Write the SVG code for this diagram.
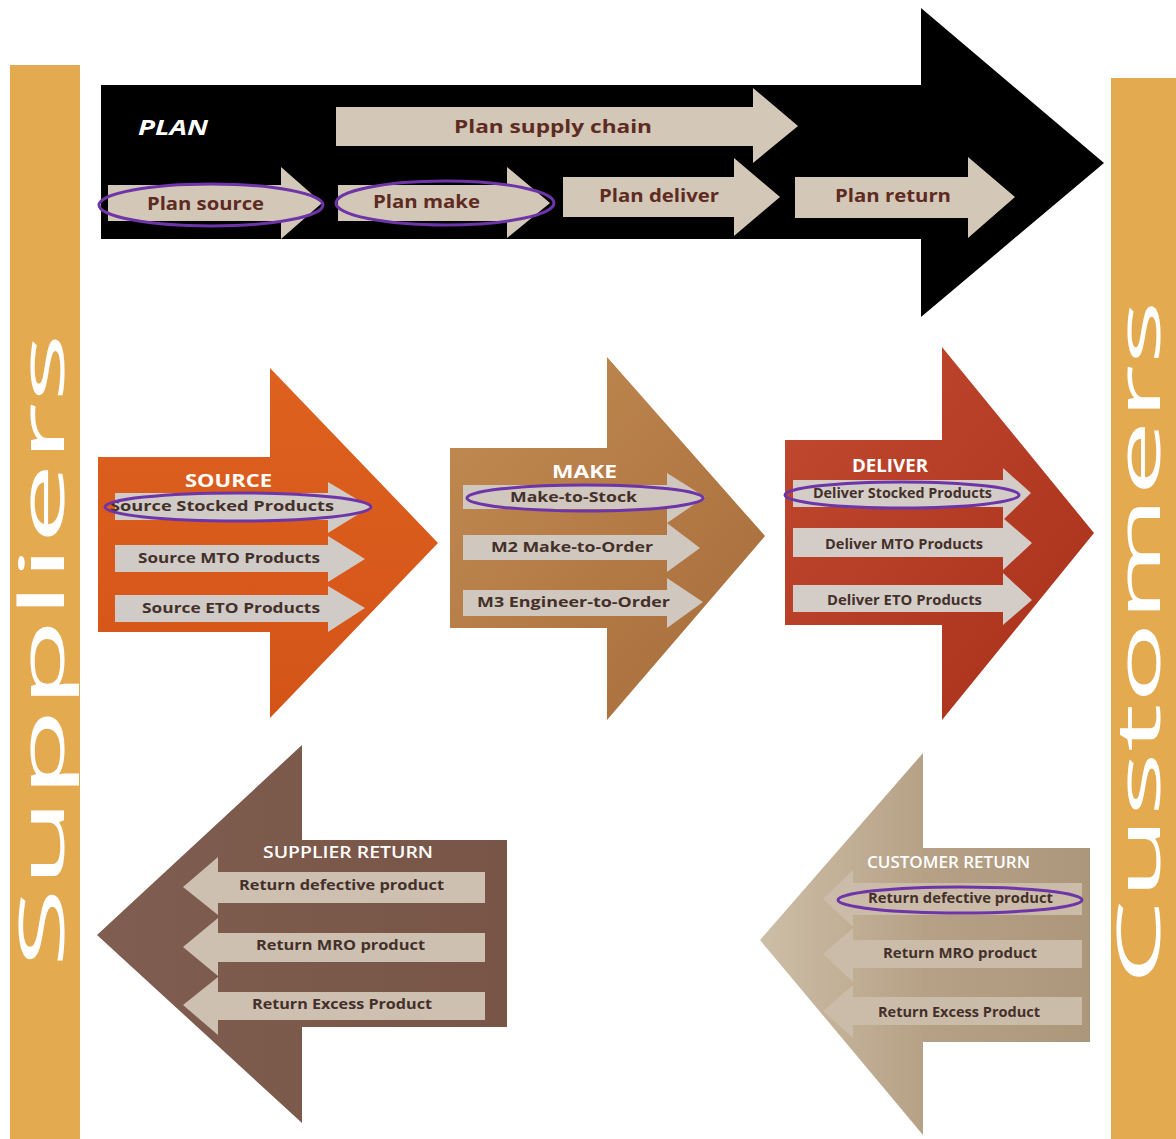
<svg xmlns="http://www.w3.org/2000/svg" width="1176" height="1139" viewBox="0 0 1176 1139">
  <defs>
    <linearGradient id="gSource" x1="0" y1="0" x2="0" y2="1">
      <stop offset="0" stop-color="#DE611F"/>
      <stop offset="1" stop-color="#D45418"/>
    </linearGradient>
    <linearGradient id="gMake" x1="0" y1="0" x2="1" y2="1">
      <stop offset="0" stop-color="#C38B53"/>
      <stop offset="1" stop-color="#A56B3A"/>
    </linearGradient>
    <linearGradient id="gDeliver" x1="0" y1="0" x2="1" y2="1">
      <stop offset="0" stop-color="#C24A30"/>
      <stop offset="1" stop-color="#A8301A"/>
    </linearGradient>
    <linearGradient id="gSupRet" x1="0" y1="0" x2="1" y2="0">
      <stop offset="0" stop-color="#7F5D50"/>
      <stop offset="1" stop-color="#785546"/>
    </linearGradient>
    <linearGradient id="gCusRet" x1="0" y1="0" x2="1" y2="0">
      <stop offset="0" stop-color="#CDBEA7"/>
      <stop offset="0.5" stop-color="#B6A186"/>
      <stop offset="1" stop-color="#AD977B"/>
    </linearGradient>
  </defs>
  <style>
    .bar { fill: #E4AA50; }
    .side { font-family: "Open Sans", "DejaVu Sans", sans-serif; fill: #FFFFFF; }
    .lbl { font-family: "Open Sans", "DejaVu Sans", sans-serif; font-weight: 700; }
    .plan-sub { fill: #D3C7B8; }
    .plan-txt { fill: #5E2B22; font-size: 18px; }
    .title { font-family: "Open Sans", "DejaVu Sans", sans-serif; font-weight: 700; fill: #FFFFFF; font-size: 17px; }
    .title-reg { font-family: "Open Sans", "DejaVu Sans", sans-serif; font-weight: 600; fill: #FFFFFF; font-size: 16px; }
    .sub-src { fill: #D0CBC6; }
    .sub-mk { fill: #D0C7BE; }
    .sub-dl { fill: #D4CDC7; }
    .sub-sr { fill: #CEC0B1; }
    .sub-cr { fill: #CBBCA9; }
    .row-txt { font-size: 14px; fill: #44302A; }
    .ring { fill: none; stroke: #6E35A8; stroke-width: 3; }
  </style>

  <!-- side bars -->
  <g id="suppliers">
    <rect class="bar" x="10" y="65" width="70" height="1074"/>
    <text class="side" font-size="62" transform="translate(64,968) rotate(-90)" textLength="635" lengthAdjust="spacingAndGlyphs">Suppliers</text>
  </g>
  <g id="customers">
    <rect class="bar" x="1111" y="78" width="65" height="1061"/>
    <text class="side" font-size="60" transform="translate(1160,985) rotate(-90)" textLength="685" lengthAdjust="spacingAndGlyphs">Customers</text>
  </g>

  <!-- PLAN -->
  <g id="plan">
    <polygon fill="#000000" points="101,85 921,85 921,8 1104,163 921,317 921,239 101,239"/>
    <text class="lbl" x="138" y="135" fill="#FFFFFF" font-size="21" font-style="italic" textLength="70" lengthAdjust="spacingAndGlyphs">PLAN</text>
    <g id="plan-supply-chain">
      <polygon class="plan-sub" points="336,107 753,107 753,88 798,126 753,163 753,146 336,146"/>
      <text class="lbl plan-txt" x="454" y="133" font-size="20" textLength="198" lengthAdjust="spacingAndGlyphs">Plan supply chain</text>
    </g>
    <g id="plan-source">
      <polygon class="plan-sub" points="108,185 281,185 281,167 322,203 281,239 281,221 108,221"/>
      <text class="lbl plan-txt" x="147" y="210" textLength="117" lengthAdjust="spacingAndGlyphs">Plan source</text>
      <ellipse class="ring" cx="211" cy="205" rx="112" ry="21"/>
    </g>
    <g id="plan-make">
      <polygon class="plan-sub" points="338,185 507,185 507,167 550,203 507,238 507,221 338,221"/>
      <text class="lbl plan-txt" x="373" y="208" textLength="107" lengthAdjust="spacingAndGlyphs">Plan make</text>
      <ellipse class="ring" cx="445" cy="203" rx="109" ry="22"/>
    </g>
    <g id="plan-deliver">
      <polygon class="plan-sub" points="563,177 734,177 734,158 780,197 734,236 734,217 563,217"/>
      <text class="lbl plan-txt" x="599" y="202" textLength="120" lengthAdjust="spacingAndGlyphs">Plan deliver</text>
    </g>
    <g id="plan-return">
      <polygon class="plan-sub" points="795,177 968,177 968,157 1015,197 968,238 968,218 795,218"/>
      <text class="lbl plan-txt" x="835" y="202" textLength="116" lengthAdjust="spacingAndGlyphs">Plan return</text>
    </g>
  </g>

  <!-- SOURCE -->
  <g id="source">
    <polygon fill="url(#gSource)" points="98,457 270,457 270,368 438,543 270,718 270,632 98,632"/>
    <text class="title" x="185" y="487" textLength="87" lengthAdjust="spacingAndGlyphs">SOURCE</text>
    <polygon class="sub-src" points="115,493 328,493 328,482 370,507 328,533 328,520 115,520"/>
    <polygon class="sub-src" points="115,545 328,545 328,536 365,559 328,582 328,572 115,572"/>
    <polygon class="sub-src" points="115,595 328,595 328,586 365,608 328,632 328,622 115,622"/>
    <text class="lbl row-txt" x="110" y="511" textLength="224" lengthAdjust="spacingAndGlyphs">Source Stocked Products</text>
    <text class="lbl row-txt" x="138" y="563" textLength="182" lengthAdjust="spacingAndGlyphs">Source MTO Products</text>
    <text class="lbl row-txt" x="142" y="613" textLength="178" lengthAdjust="spacingAndGlyphs">Source ETO Products</text>
    <ellipse class="ring" cx="238" cy="507" rx="133" ry="14"/>
  </g>

  <!-- MAKE -->
  <g id="make">
    <polygon fill="url(#gMake)" points="450,448 607,448 607,357 765,536 607,720 607,628 450,628"/>
    <text class="title" x="552" y="478" textLength="65" lengthAdjust="spacingAndGlyphs">MAKE</text>
    <polygon class="sub-mk" points="463,485 667,485 667,473 705,497 667,523 667,509 463,509"/>
    <polygon class="sub-mk" points="463,535 667,535 667,523 700,548 667,572 667,560 463,560"/>
    <polygon class="sub-mk" points="463,590 667,590 667,578 703,602 667,628 667,616 463,616"/>
    <text class="lbl row-txt" x="510" y="502" textLength="127" lengthAdjust="spacingAndGlyphs">Make-to-Stock</text>
    <text class="lbl row-txt" x="491" y="552" textLength="162" lengthAdjust="spacingAndGlyphs">M2 Make-to-Order</text>
    <text class="lbl row-txt" x="477" y="607" textLength="193" lengthAdjust="spacingAndGlyphs">M3 Engineer-to-Order</text>
    <ellipse class="ring" cx="585" cy="498" rx="118" ry="13"/>
  </g>

  <!-- DELIVER -->
  <g id="deliver">
    <polygon fill="url(#gDeliver)" points="785,440 942,440 942,347 1094,533 942,720 942,625 785,625"/>
    <text class="title" x="852" y="472" textLength="76" lengthAdjust="spacingAndGlyphs">DELIVER</text>
    <polygon class="sub-dl" points="793,480 1003,480 1003,468 1031,493 1003,520 1003,507 793,507"/>
    <polygon class="sub-dl" points="793,528 1003,528 1003,518 1032,543 1003,570 1003,557 793,557"/>
    <polygon class="sub-dl" points="793,585 1003,585 1003,573 1032,600 1003,625 1003,612 793,612"/>
    <text class="lbl row-txt" x="813" y="498" textLength="179" lengthAdjust="spacingAndGlyphs">Deliver Stocked Products</text>
    <text class="lbl row-txt" x="825" y="549" textLength="158" lengthAdjust="spacingAndGlyphs">Deliver MTO Products</text>
    <text class="lbl row-txt" x="827" y="605" textLength="155" lengthAdjust="spacingAndGlyphs">Deliver ETO Products</text>
    <ellipse class="ring" cx="902" cy="495" rx="117" ry="13"/>
  </g>

  <!-- SUPPLIER RETURN -->
  <g id="supplier-return">
    <polygon fill="url(#gSupRet)" points="507,840 302,840 302,745 97,935 302,1123 302,1027 507,1027"/>
    <text class="title-reg" x="263" y="858" textLength="170" lengthAdjust="spacingAndGlyphs">SUPPLIER RETURN</text>
    <polygon class="sub-sr" points="485,872 218,872 218,857 183,887 218,915 218,903 485,903"/>
    <polygon class="sub-sr" points="485,933 218,933 218,918 183,947 218,976 218,962 485,962"/>
    <polygon class="sub-sr" points="485,992 218,992 218,977 183,1005 218,1035 218,1020 485,1020"/>
    <text class="lbl row-txt" x="239" y="890" textLength="205" lengthAdjust="spacingAndGlyphs">Return defective product</text>
    <text class="lbl row-txt" x="256" y="950" textLength="169" lengthAdjust="spacingAndGlyphs">Return MRO product</text>
    <text class="lbl row-txt" x="252" y="1009" textLength="180" lengthAdjust="spacingAndGlyphs">Return Excess Product</text>
  </g>

  <!-- CUSTOMER RETURN -->
  <g id="customer-return">
    <polygon fill="url(#gCusRet)" points="1090,848 923,848 923,753 760,940 923,1135 923,1042 1090,1042"/>
    <text class="title-reg" x="867" y="868" textLength="163" lengthAdjust="spacingAndGlyphs" font-weight="400">CUSTOMER RETURN</text>
    <polygon class="sub-cr" points="1082,883 853,883 853,870 823,899 853,927 853,915 1082,915"/>
    <polygon class="sub-cr" points="1082,940 853,940 853,928 823,954 853,982 853,968 1082,968"/>
    <polygon class="sub-cr" points="1082,997 853,997 853,985 823,1011 853,1038 853,1025 1082,1025"/>
    <text class="lbl row-txt" x="868" y="903" fill="#5B2A20" textLength="185" lengthAdjust="spacingAndGlyphs">Return defective product</text>
    <text class="lbl row-txt" x="883" y="958" textLength="154" lengthAdjust="spacingAndGlyphs">Return MRO product</text>
    <text class="lbl row-txt" x="878" y="1017" textLength="162" lengthAdjust="spacingAndGlyphs">Return Excess Product</text>
    <ellipse class="ring" cx="960" cy="900" rx="122" ry="13"/>
  </g>
</svg>
